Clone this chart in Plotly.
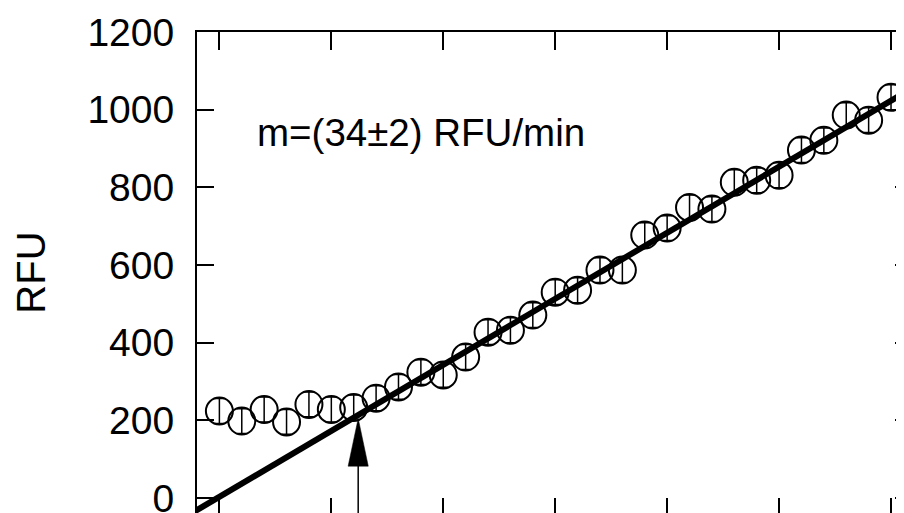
import plotly.graph_objects as go

# ---- data ----
time_min = list(range(31))
rfu = [224, 198, 228, 196, 241, 228, 233, 257, 286, 324, 317, 363, 427, 432, 471,
       530, 535, 587, 587, 677, 695, 748, 744, 813, 818, 831, 896, 921, 986, 973, 1032]
rfu_err = [32] * len(time_min)

fit_slope = 34.0
fit_intercept = 3.0
lag_time = 6.2
lag_rfu = 205

x_ticks = [0, 5, 10, 15, 20, 25, 30]
y_ticks = [0, 200, 400, 600, 800, 1000, 1200]
y_labels = ["0", "200", "400", "600", "800", "1000", "1200"]

x_range = [-1, 30.58]
y_range = [-38.6, 1200]

slope_text = "m=(34±2) RFU/min"
y_title = "RFU"

FONT = "Liberation Sans, Arial, sans-serif"

fit_x = [x_range[0] - 0.5, x_range[1] + 0.5]
fit_y = [fit_slope * x + fit_intercept for x in fit_x]

fig = go.Figure()

fig.add_trace(go.Scatter(
    x=time_min, y=rfu, mode="markers",
    marker=dict(symbol="circle-open", size=27, color="black", line=dict(width=2, color="black")),
    error_y=dict(type="data", array=rfu_err, color="black", thickness=1.5, width=5),
    showlegend=False, hoverinfo="skip",
))

fig.add_trace(go.Scatter(
    x=fit_x, y=fit_y, mode="lines",
    line=dict(color="black", width=6),
    showlegend=False, hoverinfo="skip",
))

# invisible trace so the mirrored (top / right) axes are drawn
fig.add_trace(go.Scatter(x=[None], y=[None], xaxis="x2", yaxis="y2", mode="markers",
                         showlegend=False, hoverinfo="skip"))

# arrow marking the lag time
head_len = 123
head_half = 0.45
fig.add_shape(type="line", xref="x", yref="y",
              x0=lag_time, x1=lag_time, y0=y_range[0] - 20, y1=lag_rfu - head_len + 5,
              line=dict(color="black", width=1.5))
fig.add_shape(type="path", xref="x", yref="y",
              path=f"M {lag_time},{lag_rfu} L {lag_time - head_half},{lag_rfu - head_len} "
                   f"L {lag_time + head_half},{lag_rfu - head_len} Z",
              fillcolor="black", line=dict(color="black", width=0.5))

fig.add_annotation(x=1.6, y=942, xref="x", yref="y", text=slope_text, showarrow=False,
                   xanchor="left", yanchor="middle",
                   font=dict(family=FONT, size=38.5, color="black"))

fig.add_annotation(x=-0.236, y=0.5, xref="paper", yref="paper", text=y_title, showarrow=False,
                   textangle=-90, xanchor="center", yanchor="middle",
                   font=dict(family=FONT, size=40, color="black"))

fig.update_layout(
    width=896, height=505,
    margin=dict(l=189, r=0, t=24, b=0, autoexpand=False),
    paper_bgcolor="white", plot_bgcolor="white",
    font=dict(family=FONT, size=39, color="black"),
    xaxis=dict(range=x_range, tickvals=x_ticks, ticks="inside", ticklen=15, tickwidth=1.5,
               tickcolor="black", showticklabels=False, showgrid=False, zeroline=False,
               showline=False, automargin=False),
    xaxis2=dict(range=x_range, overlaying="x", side="top", tickvals=x_ticks, ticks="inside",
                ticklen=18, tickwidth=1.5, tickcolor="black", showticklabels=False,
                showgrid=False, zeroline=False, showline=True, linecolor="black", linewidth=2,
                automargin=False),
    yaxis=dict(range=y_range, tickvals=y_ticks, ticktext=y_labels, ticks="inside", ticklen=17,
               tickwidth=1.5, tickcolor="black", showgrid=False, zeroline=False,
               showline=True, linecolor="black", linewidth=2, ticklabelstandoff=13,
               ticklabeloverflow="allow", automargin=False,
               tickfont=dict(family=FONT, size=39, color="black")),
    yaxis2=dict(range=y_range, overlaying="y", side="right", tickvals=y_ticks, ticks="inside",
                ticklen=9, tickwidth=1.5, tickcolor="black", showticklabels=False,
                showgrid=False, zeroline=False, showline=False, automargin=False),
)

fig.write_html("out.html")
